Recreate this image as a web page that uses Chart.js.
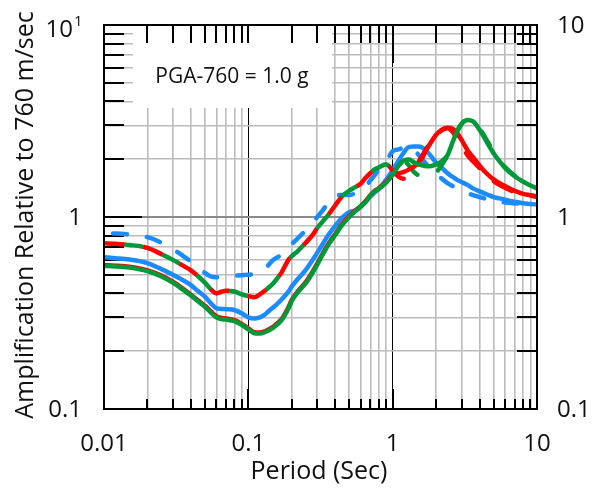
<!DOCTYPE html>
<html>
<head>
<meta charset="utf-8">
<script src="https://cdn.jsdelivr.net/npm/chart.js@4.4.1/dist/chart.umd.min.js"></script>
<style>
  html, body { margin: 0; padding: 0; background: #fff; }
  canvas { display: block; }
</style>
</head>
<body>
<canvas id="chart" width="592" height="491"></canvas>
<script>
// Spectral periods (s) shared by every curve
const periods = [
  0.01, 0.012, 0.015, 0.02, 0.025, 0.03, 0.035, 0.04, 0.045, 0.05,
  0.055, 0.06, 0.065, 0.07, 0.08, 0.09, 0.1, 0.11, 0.12, 0.13, 0.14, 0.15,
  0.17, 0.19, 0.2, 0.22, 0.25, 0.28, 0.3, 0.33, 0.36, 0.4, 0.45, 0.5,
  0.55, 0.6, 0.65, 0.7, 0.75, 0.8, 0.9, 1.0, 1.1, 1.2, 1.3, 1.4,
  1.5, 1.6, 1.7, 1.8, 2.0, 2.2, 2.4, 2.6, 2.8, 3.0,
  3.3, 3.6, 4.0, 4.5, 5.0, 5.5, 6.0, 7.0, 8.0, 9.0, 10
];

// Amplification relative to Vs30 = 760 m/s
const blueSolid = [
  0.617, 0.610, 0.600, 0.575, 0.535, 0.500, 0.470, 0.442, 0.410, 0.385,
  0.355, 0.335, 0.332, 0.331, 0.328, 0.315, 0.300, 0.296, 0.300, 0.310, 0.326, 0.340,
  0.372, 0.410, 0.435, 0.475, 0.530, 0.600, 0.650, 0.730, 0.810, 0.900, 1.00, 1.06,
  1.08, 1.13, 1.20, 1.28, 1.34, 1.40, 1.56, 1.76, 1.97, 2.18, 2.32, 2.33,
  2.33, 2.30, 2.22, 2.12, 1.92, 1.80, 1.69, 1.62, 1.56, 1.52,
  1.47, 1.41, 1.36, 1.31, 1.27, 1.25, 1.23, 1.20, 1.18, 1.17, 1.16
];
const blueDashed = [
  0.820, 0.820, 0.810, 0.785, 0.735, 0.680, 0.630, 0.587, 0.548, 0.512,
  0.490, 0.485, 0.488, 0.490, 0.495, 0.498, 0.500, 0.505, 0.515, 0.535, 0.570, 0.600,
  0.635, 0.680, 0.720, 0.775, 0.850, 0.930, 1.00, 1.09, 1.20, 1.30, 1.30, 1.30,
  1.33, 1.38, 1.44, 1.55, 1.65, 1.77, 1.95, 2.20, 2.25, 2.30, 2.33, 2.25,
  2.12, 2.00, 1.90, 1.82, 1.67, 1.58, 1.50, 1.45, 1.41, 1.37,
  1.33, 1.30, 1.27, 1.24, 1.22, 1.20, 1.19, 1.18, 1.17, 1.165, 1.16
];
const redSolid = [
  0.562, 0.558, 0.550, 0.527, 0.495, 0.460, 0.425, 0.394, 0.367, 0.345,
  0.322, 0.304, 0.298, 0.296, 0.290, 0.277, 0.263, 0.251, 0.250, 0.254, 0.261, 0.270,
  0.294, 0.340, 0.370, 0.410, 0.458, 0.522, 0.572, 0.652, 0.728, 0.815, 0.925, 1.01,
  1.08, 1.14, 1.21, 1.30, 1.37, 1.41, 1.52, 1.66, 1.69, 1.72, 1.77, 1.83,
  1.90, 2.03, 2.22, 2.38, 2.68, 2.85, 2.92, 2.88, 2.73, 2.52,
  2.23, 2.05, 1.85, 1.68, 1.57, 1.50, 1.45, 1.37, 1.32, 1.30, 1.28
];
const redDashed = [
  0.730, 0.725, 0.715, 0.690, 0.640, 0.598, 0.560, 0.527, 0.490, 0.455,
  0.420, 0.400, 0.408, 0.413, 0.409, 0.396, 0.387, 0.382, 0.395, 0.413, 0.432, 0.455,
  0.515, 0.600, 0.625, 0.665, 0.735, 0.810, 0.875, 0.955, 1.03, 1.15, 1.29, 1.37,
  1.43, 1.49, 1.60, 1.69, 1.77, 1.81, 1.88, 1.75, 1.62, 1.58, 1.66, 1.78,
  1.92, 2.08, 2.25, 2.40, 2.66, 2.84, 2.90, 2.78, 2.55, 2.35,
  2.10, 1.95, 1.80, 1.65, 1.54, 1.47, 1.42, 1.35, 1.31, 1.29, 1.27
];
const greenSolid = [
  0.556, 0.553, 0.545, 0.522, 0.490, 0.455, 0.420, 0.390, 0.363, 0.341,
  0.318, 0.300, 0.294, 0.292, 0.287, 0.274, 0.260, 0.248, 0.247, 0.251, 0.258, 0.266,
  0.290, 0.335, 0.365, 0.405, 0.452, 0.515, 0.565, 0.645, 0.720, 0.806, 0.915, 1.00,
  1.07, 1.13, 1.20, 1.29, 1.36, 1.40, 1.51, 1.66, 1.85, 1.97, 1.99, 1.93,
  1.88, 1.86, 1.84, 1.84, 1.88, 1.96, 2.10, 2.45, 2.80, 3.05,
  3.20, 3.15, 2.85, 2.45, 2.15, 1.95, 1.80, 1.63, 1.53, 1.46, 1.41
];
const greenDashed = [
  0.730, 0.725, 0.715, 0.690, 0.640, 0.598, 0.560, 0.527, 0.490, 0.455,
  0.420, 0.400, 0.408, 0.413, 0.409, 0.396, 0.387, 0.382, 0.395, 0.413, 0.432, 0.455,
  0.515, 0.600, 0.625, 0.665, 0.735, 0.810, 0.875, 0.955, 1.03, 1.15, 1.29, 1.37,
  1.43, 1.49, 1.60, 1.69, 1.77, 1.81, 1.88, 1.78, 1.88, 1.95, 1.85, 1.72,
  1.65, 1.61, 1.59, 1.60, 1.70, 1.88, 2.10, 2.45, 2.80, 3.05,
  3.22, 3.18, 2.90, 2.50, 2.20, 1.98, 1.82, 1.64, 1.53, 1.46, 1.41
];

// Axis labels
const xTickValues = [0.01, 0.1, 1, 10];
const xTickLabels = ['0.01', '0.1', '1', '10'];
const yTickValues = [0.1, 1, 10];
const yLeftLabels = ['0.1', '1', '10'];
const yRightLabels = ['0.1', '1', '10'];
const xTitle = 'Period (Sec)';
const yTitle = 'Amplification Relative to 760 m/sec';
const noteText = 'PGA-760 = 1.0 g';

const FONT = '"Open Sans", "DejaVu Sans", sans-serif';
const BLUE = '#1b8cff';
const RED = '#ff0000';
const GREEN = '#00993a';

// 1..9 x 10^k for every decade of an axis, plus the upper end
function logGrid(lo, hi) {
  const out = [];
  for (let e = Math.round(Math.log10(lo)); e < Math.round(Math.log10(hi)); e++) {
    for (let m = 1; m <= 9; m++) out.push(m * Math.pow(10, e));
  }
  out.push(hi);
  return out;
}
const isDecade = v => Math.abs(Math.log10(v) - Math.round(Math.log10(v))) < 1e-6;
const near = (a, b) => Math.abs(Math.log10(a) - Math.log10(b)) < 1e-6;

const xGrid = logGrid(0.01, 10).filter(v => !near(v, 0.01) && !near(v, 10));
const yGrid = logGrid(0.1, 10).filter(v => !near(v, 0.1) && !near(v, 10));

function curve(values, color, dash, offset, order) {
  return {
    data: periods.map((p, i) => ({ x: p, y: values[i] })),
    borderColor: color,
    borderWidth: 4.5,
    borderDash: dash,
    borderDashOffset: offset,
    borderCapStyle: 'round',
    borderJoinStyle: 'round',
    cubicInterpolationMode: 'monotone',
    pointRadius: 0,
    fill: false,
    order: order
  };
}

const frame = {
  id: 'frame',
  beforeDatasetsDraw(chart) {
    const { ctx, chartArea: a, scales } = chart;
    const xs = scales.x, ys = scales.y;
    ctx.save();
    // note panel hides the grid behind the label
    ctx.fillStyle = '#fff';
    ctx.fillRect(133, a.top + 1, 199, 108 - a.top - 1);
    // tick marks on all four sides
    ctx.strokeStyle = '#000';
    ctx.lineWidth = 2;
    ctx.lineCap = 'butt';
    ctx.beginPath();
    xGrid.forEach(v => {
      const px = Math.round(xs.getPixelForValue(v));
      const major = isDecade(v);
      const bottomLen = major ? 20 : 10;
      const topLen = near(v, 1) ? 38 : 18;
      ctx.moveTo(px, a.bottom); ctx.lineTo(px, a.bottom - bottomLen);
      ctx.moveTo(px, a.top); ctx.lineTo(px, a.top + topLen);
    });
    yGrid.forEach(v => {
      const py = Math.round(ys.getPixelForValue(v));
      const major = isDecade(v);
      ctx.moveTo(a.left, py); ctx.lineTo(a.left + (major ? 38 : 20), py);
      ctx.moveTo(a.right, py); ctx.lineTo(a.right - (major ? 40 : 20), py);
    });
    ctx.stroke();
    ctx.restore();
  },
  afterDatasetsDraw(chart) {
    const { ctx, chartArea: a } = chart;
    ctx.save();
    ctx.strokeStyle = '#000';
    ctx.lineWidth = 2;
    ctx.strokeRect(a.left, a.top, a.right - a.left, a.bottom - a.top);
    ctx.restore();
  },
  afterDraw(chart) {
    const { ctx, chartArea: a, scales } = chart;
    const xs = scales.x, ys = scales.y;
    ctx.save();
    ctx.fillStyle = '#111';
    ctx.font = '24px ' + FONT;
    ctx.textBaseline = 'middle';
    ctx.textAlign = 'center';
    xTickValues.forEach((v, i) => {
      ctx.fillText(xTickLabels[i], xs.getPixelForValue(v), a.bottom + 35);
    });
    // left axis: the top decade is written as 10 with a superscript 1
    ctx.textAlign = 'right';
    yTickValues.forEach((v, i) => {
      const py = ys.getPixelForValue(v) + 1;
      if (near(v, 10)) {
        ctx.fillText('10', a.left - 31, py + 4);
        ctx.font = '15px ' + FONT;
        ctx.textAlign = 'left';
        ctx.fillText('1', a.left - 30, py - 4);
        ctx.font = '24px ' + FONT;
        ctx.textAlign = 'right';
      } else {
        ctx.fillText(yLeftLabels[i], a.left - 22, py);
      }
    });
    ctx.textAlign = 'left';
    yTickValues.forEach((v, i) => {
      ctx.fillText(yRightLabels[i], a.right + 20, ys.getPixelForValue(v) + 1);
    });
    // axis titles
    ctx.font = '25px ' + FONT;
    ctx.textAlign = 'center';
    ctx.fillText(xTitle, 319, 472);
    ctx.save();
    ctx.translate(26, 215);
    ctx.rotate(-Math.PI / 2);
    ctx.fillText(yTitle, 0, 0);
    ctx.restore();
    // ground-motion level note
    ctx.font = '21px ' + FONT;
    ctx.fillText(noteText, 232, 77);
    ctx.restore();
  }
};

function fixedTicks(values) {
  return scale => { scale.ticks = values.map(v => ({ value: v })); };
}

new Chart(document.getElementById('chart'), {
  type: 'line',
  data: {
    datasets: [
      curve(greenSolid, GREEN, [], 0, 1),
      curve(redSolid, RED, [], 0, 2),
      // the two dashed curves share a 40 px cycle so their dashes take turns
      curve(greenDashed, GREEN, [15.5, 24.5], 17.75, 3),
      curve(redDashed, RED, [20, 20], 0, 4),
      curve(blueSolid, BLUE, [], 0, 5),
      curve(blueDashed, BLUE, [14, 20], 25, 6)
    ]
  },
  options: {
    responsive: false,
    devicePixelRatio: 1,
    animation: false,
    events: [],
    layout: { padding: { top: 25, right: 55, left: 0, bottom: 0 } },
    plugins: { legend: { display: false }, tooltip: { enabled: false } },
    scales: {
      x: {
        type: 'logarithmic',
        min: 0.01, max: 10,
        afterBuildTicks: fixedTicks(xGrid),
        afterFit: s => { s.height = 82; },
        ticks: { display: false },
        border: { display: false },
        grid: {
          drawTicks: false,
          color: c => isDecade(c.tick.value) ? '#000' : '#bcbcbc',
          lineWidth: c => isDecade(c.tick.value) ? 1 : 1.6
        }
      },
      y: {
        type: 'logarithmic',
        min: 0.1, max: 10,
        afterBuildTicks: fixedTicks(yGrid),
        afterFit: s => { s.width = 104; },
        ticks: { display: false },
        border: { display: false },
        grid: {
          drawTicks: false,
          color: c => isDecade(c.tick.value) ? '#8a8a8a' : '#bcbcbc',
          lineWidth: c => isDecade(c.tick.value) ? 2 : 1.6
        }
      }
    }
  },
  plugins: [frame]
});
</script>
</body>
</html>
